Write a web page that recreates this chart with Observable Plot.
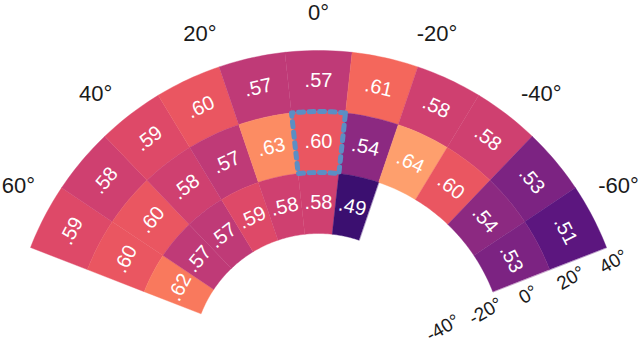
<!DOCTYPE html>
<html>
<head>
<meta charset="utf-8">
<script src="https://cdn.jsdelivr.net/npm/d3@7"></script>
<script src="https://cdn.jsdelivr.net/npm/@observablehq/plot@0.6"></script>
<style>
  html, body { margin: 0; padding: 0; background: #fff; }
</style>
</head>
<body>
<div id="chart"></div>
<script>
// ---- data ----
const azimuths = [62.5, 50, 37.5, 25, 12.5, 0, -12.5, -25, -37.5, -50, -62.5]; // column centres (deg)
const elevations = [26.67, 0, -26.67];                                        // ring centres (deg)
const rowUpper  = [.59, .58, .59, .60, .57, .57, .61, .58, .58, .53, .51];
const rowMiddle = [.60, .60, .58, .57, .63, .60, .54, .64, .60, .54, .53];
const rowLower  = [.62, .57, .57, .59, .58, .58, .49, null, null, null, null];
const angleTicks = [60, 40, 20, 0, -20, -40, -60];
const radialTicks = [-40, -20, 0, 20, 40];
const highlightAz = 0, highlightEl = 0;

const azStep = 12.5, elStep = 80 / 3;
const rows = [rowUpper, rowMiddle, rowLower];

// table built from the arrays
const cells = [];
rows.forEach((row, i) => row.forEach((v, j) => {
  if (v != null) cells.push({az: azimuths[j], el: elevations[i], v});
}));

// cell outline in (azimuth, elevation) space
function cellPolygon(az, el) {
  const a0 = az - azStep / 2, a1 = az + azStep / 2;
  const e0 = el - elStep / 2, e1 = el + elStep / 2;
  const ring = [];
  const n = 12;
  for (let k = 0; k <= n; k++) ring.push([a0 + (a1 - a0) * k / n, e1]);
  for (let k = 0; k <= n; k++) ring.push([a1 - (a1 - a0) * k / n, e0]);
  ring.push(ring[0]);
  return {type: "Feature", properties: {}, geometry: {type: "Polygon", coordinates: [ring]}};
}
const features = cells.map(c => {
  const f = cellPolygon(c.az, c.el);
  f.properties = c;
  return f;
});
const highlight = cellPolygon(highlightAz, highlightEl);

// polar projection: azimuth -> angle, elevation -> radius
const radius = d3.scaleLinear().domain([-40, 40]).range([126, 309]);
const cx = 318, cy = 359;
const polar = d3.geoTransform({
  point(az, el) {
    const a = az * Math.PI / 180, r = radius(el);
    this.stream.point(cx - r * Math.sin(a), cy - r * Math.cos(a));
  }
});

const fmt = v => d3.format(".2f")(v).replace(/^0/, "");
const edgeAz = azimuths[azimuths.length - 1] - azStep / 2;
const labelEl = 56.4;

const chart = Plot.plot({
  width: 640,
  height: 346,
  margin: 0,
  projection: polar,
  style: {fontFamily: "'Liberation Sans', Arial, Helvetica, sans-serif", background: "#fff"},
  color: {type: "linear", scheme: "magma", domain: [0.44, 0.69]},
  marks: [
    Plot.geo(features, {fill: d => d.properties.v, stroke: d => d.properties.v, strokeWidth: 0.4}),
    Plot.geo([highlight], {fill: "none", stroke: "#5b8ec4", strokeWidth: 5, strokeDasharray: "5 5.5"}),
    Plot.text(cells, {
      x: "az", y: "el", text: d => fmt(d.v), rotate: d => -d.az,
      fill: "white", fontSize: 20
    }),
    Plot.text(angleTicks, {
      x: d => d, y: () => labelEl, text: d => `${d}°`,
      fill: "#1a1a1a", fontSize: 22
    }),
    Plot.text(radialTicks, {
      x: () => edgeAz, y: d => d, text: d => `${d}°`,
      rotate: -30, dx: 7, dy: 14, fill: "#1a1a1a", fontSize: 19
    })
  ]
});
document.getElementById("chart").appendChild(chart);
</script>
</body>
</html>
